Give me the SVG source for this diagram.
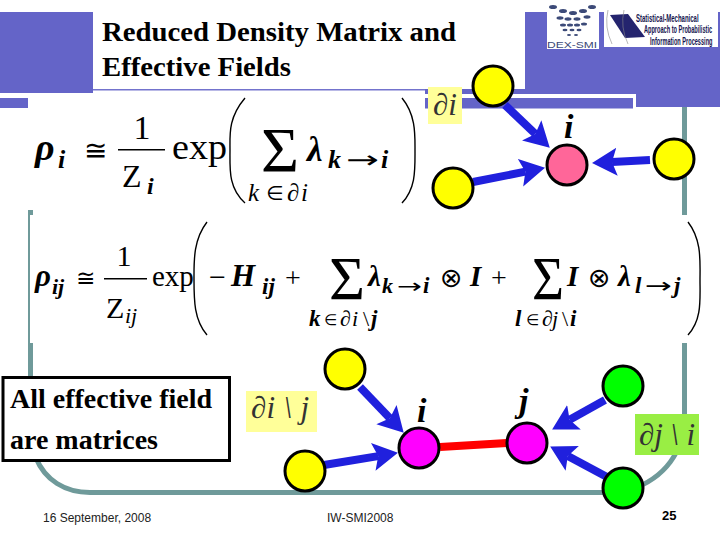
<svg xmlns="http://www.w3.org/2000/svg" width="720" height="540" viewBox="0 0 720 540">
<defs>
<marker id="arr" markerUnits="userSpaceOnUse" markerWidth="30" markerHeight="32" refX="5" refY="16" orient="auto"><path d="M0,2 L25,16 L0,30 L5,16 Z" fill="#2020dd"/></marker>
</defs>
<style>
.band{fill:#6464c8}
.teal{fill:none;stroke:#6f9a9a;stroke-width:5}
.sq{fill:#6f9a9a}
.arrow{stroke:#2020dd;stroke-width:8;fill:none;marker-end:url(#arr)}
.node{stroke:#000;stroke-width:3}
.paren{fill:none;stroke:#000;stroke-width:1.4}
text{font-family:"Liberation Serif","DejaVu Serif",serif;fill:#000}
.bi{font-style:italic;font-weight:bold}
.it{font-style:italic}
.sym{font-family:"DejaVu Sans","Liberation Serif",sans-serif}
.sans{font-family:"Liberation Sans",Arial,sans-serif;font-size:12px;fill:#222}
.ttl{font-weight:bold;font-size:27px}
.note{font-weight:bold;font-size:28px}
.lab{font-style:italic;font-size:31px;fill:#333}
.lg{font-family:"Liberation Sans",sans-serif;font-size:10px;font-weight:bold;fill:#14144e}
</style>
<rect width="720" height="540" fill="#fff"/>
<g id="frame">
<rect class="band" x="0" y="12" width="93" height="81"/>
<rect class="band" x="0" y="98" width="28" height="10"/>
<rect class="band" x="93" y="89" width="432" height="1.500" fill-opacity="0.9"/>
<rect class="band" x="425" y="89" width="100" height="5"/>
<rect class="band" x="425" y="98" width="208" height="10.500"/>
<rect class="band" x="525" y="12" width="195" height="82"/>
<rect class="band" x="636" y="94" width="84" height="13"/>
<path class="teal" d="M684.500,107V214M684.500,343V415C684.500,452 665,478 630,490M610,492.500H90C65,492.500 45,480 36,458M30.500,346V376"/>
<path d="M29,213V344" fill="none" stroke="#6f9a9a" stroke-width="2"/>
<rect class="sq" x="28" y="210" width="5" height="5"/><rect class="sq" x="28" y="343" width="5" height="5"/>
<rect class="sq" x="682" y="210" width="5" height="5"/><rect class="sq" x="682" y="343" width="5" height="5"/>
</g>
<g id="logos">
<rect x="547" y="0" width="52" height="49" fill="#fff"/>
<rect x="604" y="8" width="114" height="39" fill="#fff"/>
<g fill="#3c4a78">
<ellipse cx="553" cy="7" rx="4" ry="2"/><ellipse cx="563" cy="11" rx="4" ry="2"/><ellipse cx="573" cy="13" rx="4" ry="2"/><ellipse cx="583" cy="11" rx="4" ry="2"/><ellipse cx="592" cy="7" rx="4" ry="2"/>
<ellipse cx="560" cy="18" rx="3.500" ry="1.700"/><ellipse cx="568" cy="19" rx="3.500" ry="1.700"/><ellipse cx="577" cy="19" rx="3.500" ry="1.700"/><ellipse cx="587" cy="17" rx="3.500" ry="1.700"/>
<ellipse cx="563" cy="25" rx="3" ry="1.500"/><ellipse cx="570" cy="25" rx="3" ry="1.500"/><ellipse cx="577" cy="25" rx="3" ry="1.500"/><ellipse cx="584" cy="24" rx="3" ry="1.500"/>
<ellipse cx="565" cy="30" rx="2.500" ry="1.200"/><ellipse cx="572" cy="30" rx="2.500" ry="1.200"/><ellipse cx="579" cy="30" rx="2.500" ry="1.200"/>
<ellipse cx="569" cy="35" rx="2" ry="1"/><ellipse cx="576" cy="35" rx="2" ry="1"/>
</g>
<text x="547" y="48" textLength="50" lengthAdjust="spacingAndGlyphs" style="font-family:'Liberation Sans',sans-serif;font-size:9px;fill:#3c4a78">DEX-SMI</text>
<path d="M610,15L628,14L645,37L625,38Z" fill="#24246e"/>
<path d="M608,10Q604,27 612,44M624,10Q620,27 628,44" fill="none" stroke="#888" stroke-width="0.600"/>
<text class="lg" transform="translate(636,22) scale(0.6,1)">Statistical-Mechanical</text>
<text class="lg" transform="translate(644,33) scale(0.56,1)">Approach to Probabilistic</text>
<text class="lg" transform="translate(650,45) scale(0.56,1)">Information Processing</text>
</g>
<g id="title">
<text class="ttl" x="102" y="41" textLength="354" lengthAdjust="spacingAndGlyphs">Reduced Density Matrix and</text>
<text class="ttl" x="102" y="76" textLength="189" lengthAdjust="spacingAndGlyphs">Effective Fields</text>
</g>
<g id="formula1">
<text class="bi" x="35" y="160" font-size="38">ρ</text><text class="bi" x="58" y="168" font-size="26">i</text>
<text class="sym" x="84" y="160" font-size="28">≅</text>
<text x="142" y="139" font-size="34" text-anchor="middle">1</text>
<rect x="118" y="149" width="47" height="1.500"/>
<text x="122" y="187" font-size="32">Z<tspan class="bi" x="147" y="194" font-size="24">i</tspan></text>
<text x="172" y="159" font-size="35" textLength="55" lengthAdjust="spacingAndGlyphs">exp</text>
<path class="paren" d="M245,98C228,118 230,135 230,150C230,168 228,188 245,203"/>
<text x="261" y="172" font-size="64" textLength="38" lengthAdjust="spacingAndGlyphs">Σ</text>
<text class="bi" x="307" y="161" font-size="35">λ<tspan x="328" y="168" font-size="26">k</tspan></text>
<text class="sym" x="346" y="168" font-size="24" textLength="33" lengthAdjust="spacingAndGlyphs">→</text>
<text class="bi" x="381" y="168" font-size="26">i</text>
<text class="it" x="248" y="201" font-size="25">k<tspan class="sym" x="266" y="200" font-size="20" font-style="normal">∈</tspan><tspan x="287" y="201">∂</tspan><tspan x="301" y="201">i</tspan></text>
<path class="paren" d="M402,98C416,115 415,135 415,150C415,170 416,188 402,203"/>
</g>
<g id="formula2">
<text class="bi" x="35" y="286" font-size="31">ρ<tspan x="52" y="294" font-size="22">ij</tspan></text>
<text class="sym" x="76" y="286" font-size="23">≅</text>
<text x="124" y="266" font-size="30" text-anchor="middle">1</text>
<rect x="104" y="278" width="43" height="1.500"/>
<text x="106" y="318" font-size="30">Z<tspan class="it" x="125" y="323" font-size="22">ij</tspan></text>
<text x="152" y="286" font-size="29">exp</text>
<path class="paren" d="M207,222C193,240 194,262 194,280C194,300 194,320 207,335"/>
<text x="209" y="287" font-size="30">−</text>
<text class="bi" x="231" y="286" font-size="31">H<tspan x="262" y="294" font-size="23">ij</tspan></text>
<text x="285" y="287" font-size="28">+</text>
<text x="329" y="299" font-size="62" textLength="36" lengthAdjust="spacingAndGlyphs">Σ</text>
<text class="bi" x="368" y="286" font-size="29">λ<tspan x="382" y="293" font-size="22">k</tspan></text>
<text class="sym" x="397" y="293" font-size="20" textLength="25" lengthAdjust="spacingAndGlyphs">→</text>
<text class="bi" x="423" y="293" font-size="23">i</text>
<text class="sym" x="440" y="287" font-size="27">⊗</text>
<text class="bi" x="470" y="286" font-size="29">I</text>
<text x="491" y="287" font-size="28">+</text>
<text x="532" y="299" font-size="62" textLength="32" lengthAdjust="spacingAndGlyphs">Σ</text>
<text class="bi" x="567" y="286" font-size="29">I</text>
<text class="sym" x="588" y="287" font-size="27">⊗</text>
<text class="bi" x="618" y="286" font-size="29">λ<tspan x="635" y="293" font-size="23">l</tspan></text>
<text class="sym" x="645" y="293" font-size="21" textLength="27" lengthAdjust="spacingAndGlyphs">→</text>
<text class="bi" x="674" y="293" font-size="23">j</text>
<text class="bi" x="309" y="326" font-size="23">k<tspan class="sym" x="324" y="325" font-size="15" font-style="normal" font-weight="normal">∈</tspan><tspan x="340" font-size="22" font-weight="normal" y="326">∂</tspan><tspan x="352" y="326" font-size="22" font-weight="normal">i</tspan><tspan x="363" y="326" font-size="22" font-weight="normal" font-style="normal">\</tspan><tspan x="371" y="326">j</tspan></text>
<text class="bi" x="515" y="326" font-size="23">l<tspan class="sym" x="526" y="325" font-size="15" font-style="normal" font-weight="normal">∈</tspan><tspan x="542" y="326" font-size="22" font-weight="normal">∂</tspan><tspan x="552" y="326" font-size="22" font-weight="normal">j</tspan><tspan x="562" y="326" font-size="22" font-weight="normal" font-style="normal">\</tspan><tspan x="570" y="326">i</tspan></text>
<path class="paren" d="M688,222C702,240 700,262 700,280C700,300 702,320 688,335"/>
</g>
<g id="note">
<rect x="3" y="377.500" width="226.500" height="83" fill="#fff" stroke="#000" stroke-width="3"/>
<text class="note" x="10" y="408">All effective field</text>
<text class="note" x="10" y="449">are matrices</text>
</g>
<g id="label-di"><rect x="428" y="87" width="34" height="37" fill="#ffff99"/><text class="lab" x="433" y="115">∂i</text></g>
<g id="label-dij"><rect x="246" y="391" width="71" height="41" fill="#ffff99"/><text class="lab" x="251" y="418" textLength="58">∂i \ j</text></g>
<g id="label-dji"><rect x="635" y="414" width="64" height="41" fill="#99ee44"/><text class="lab" x="639" y="445" textLength="56">∂j \ i</text></g>
<g id="connectors">
<line class="arrow" x1="505" y1="105" x2="535.300" y2="133.900"/>
<line class="arrow" x1="473" y1="182" x2="525.400" y2="171.700"/>
<line class="arrow" x1="650" y1="160" x2="612" y2="162"/>
<line class="arrow" x1="360" y1="387" x2="389.900" y2="418.300"/>
<line class="arrow" x1="324" y1="465" x2="378.200" y2="456.100"/>
<line class="arrow" x1="605" y1="400" x2="569.600" y2="419.700"/>
<line class="arrow" x1="607" y1="477" x2="567.800" y2="456"/>
<line x1="440" y1="447" x2="507" y2="443" stroke="#ff0000" stroke-width="8"/>
</g>
<g id="node-a"><circle class="node" cx="493" cy="86" r="20" fill="#ffff00"/></g>
<g id="node-b"><circle class="node" cx="453" cy="188" r="20" fill="#ffff00"/></g>
<g id="node-c"><circle class="node" cx="674" cy="159" r="20" fill="#ffff00"/></g>
<g id="node-i"><circle class="node" cx="567" cy="165" r="20" fill="#ff6699"/><text class="bi" x="564" y="138" font-size="34">i</text></g>
<g id="node-d"><circle class="node" cx="345" cy="369" r="20" fill="#ffff00"/></g>
<g id="node-e"><circle class="node" cx="305" cy="471" r="20" fill="#ffff00"/></g>
<g id="node-i2"><circle class="node" cx="419" cy="448" r="20" fill="#ff00ff"/><text class="bi" x="417" y="422" font-size="34">i</text></g>
<g id="node-j"><circle class="node" cx="527" cy="443" r="20" fill="#ff00ff"/><text class="bi" x="519" y="412" font-size="34">j</text></g>
<g id="node-f"><circle class="node" cx="623" cy="386" r="20" fill="#00ff00"/></g>
<g id="node-g"><circle class="node" cx="623" cy="488" r="20" fill="#00ff00"/></g>
<g id="footer">
<text class="sans" x="43" y="522">16 September, 2008</text>
<text class="sans" x="327" y="522">IW-SMI2008</text>
<text x="662" y="520" style="font-family:'Liberation Sans',sans-serif;font-weight:bold;font-size:13px">25</text>
</g>
</svg>
